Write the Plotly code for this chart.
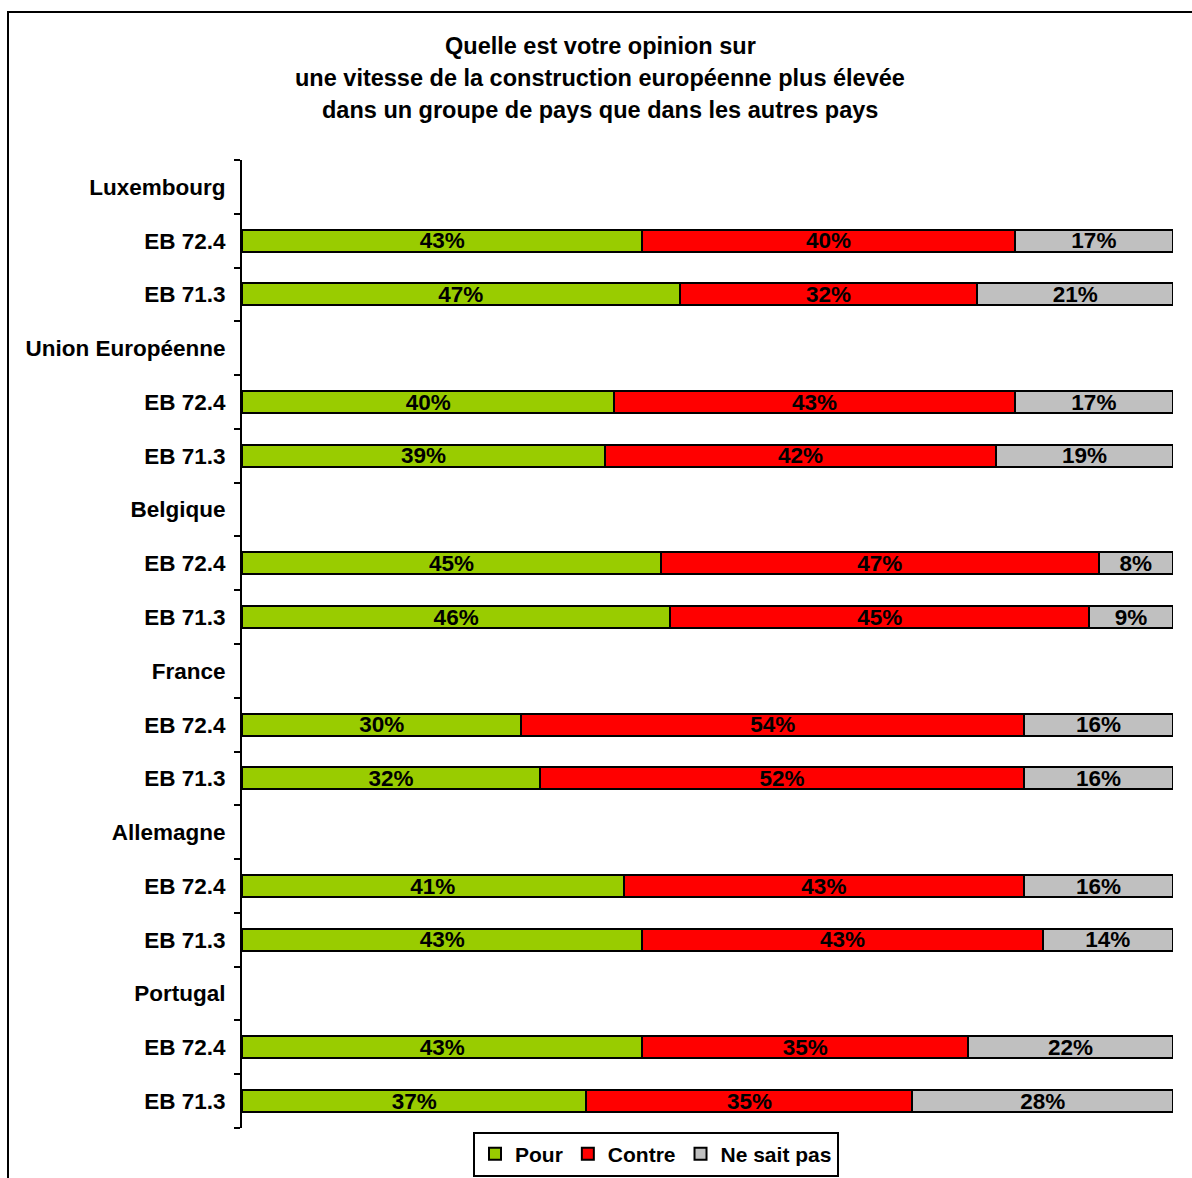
import plotly.graph_objects as go

countries = ["Luxembourg", "Union Européenne", "Belgique", "France", "Allemagne", "Portugal"]
waves = ["EB 72.4", "EB 71.3"]

pour = [[43, 47], [40, 39], [45, 46], [30, 32], [41, 43], [43, 37]]
contre = [[40, 32], [43, 42], [47, 45], [54, 52], [43, 43], [35, 35]]
nsp = [[17, 21], [17, 19], [8, 9], [16, 16], [16, 14], [22, 28]]

series_names = ["Pour", "Contre", "Ne sait pas"]
series_colors = ["#99CC00", "#FF0000", "#C0C0C0"]
title_lines = ["Quelle est votre opinion sur",
               "une vitesse de la construction européenne plus élevée",
               "dans un groupe de pays que dans les autres pays"]

FONT = "Liberation Sans, Arial, sans-serif"
FS = 22.5

# build rows: header row per country then two waves
row_ids, row_labels = [], []
vals = {0: [], 1: [], 2: []}
for ci, c in enumerate(countries):
    row_ids.append(f"r{len(row_ids)}")
    row_labels.append(c)
    for k in range(3):
        vals[k].append(None)
    for wi, w in enumerate(waves):
        row_ids.append(f"r{len(row_ids)}")
        row_labels.append(w)
        vals[0].append(pour[ci][wi])
        vals[1].append(contre[ci][wi])
        vals[2].append(nsp[ci][wi])

fig = go.Figure()
for k in range(3):
    fig.add_trace(go.Bar(
        y=row_ids, x=vals[k], orientation="h", name=series_names[k],
        marker=dict(color=series_colors[k], line=dict(color="black", width=2)),
        text=[f"{v}%" if v is not None else "" for v in vals[k]],
        textposition="inside", insidetextanchor="middle", constraintext="none",
        textfont=dict(family=FONT, size=FS, color="black", weight="bold"),
        width=0.41, hoverinfo="skip",
    ))

W, H = 1192, 1178
L, R, T, B = 242, 19, 160, 50
ph = H - T - B
pw = W - L - R

def py(pix):
    return (H - B - pix) / ph

def px(pix):
    return (pix - L) / pw

annotations = []
for i, line in enumerate(title_lines):
    annotations.append(dict(
        text=line, xref="paper", yref="paper", x=px(600), y=py(46 + 32 * i),
        xanchor="center", yanchor="middle", showarrow=False,
        font=dict(family=FONT, size=23.5, color="black", weight="bold")))

fig.update_layout(
    template="none",
    width=W, height=H, barmode="stack",
    margin=dict(l=L, r=R, t=T, b=B, pad=0, autoexpand=False),
    paper_bgcolor="white", plot_bgcolor="white",
    showlegend=True,
    legend=dict(orientation="h", xref="container", x=656 / W, xanchor="center",
                yref="container", y=(H - 1154) / H, yanchor="middle",
                bordercolor="black", borderwidth=2, bgcolor="white",
                font=dict(family=FONT, size=21, color="black", weight="bold"),
                traceorder="normal"),
    xaxis=dict(range=[0, 100], visible=False, fixedrange=True),
    yaxis=dict(type="category", categoryorder="array", categoryarray=row_ids,
               tickmode="array", tickvals=row_ids, ticktext=row_labels,
               autorange="reversed", tickson="boundaries",
               ticks="outside", ticklen=6, tickwidth=2, tickcolor="black",
               showline=True, linecolor="black", linewidth=2, showgrid=False,
               zeroline=False, automargin=False,
               ticklabelstandoff=10,
               tickfont=dict(family=FONT, size=FS, color="black", weight="bold")),
    annotations=annotations,
    shapes=[dict(type="rect", xref="paper", yref="paper",
                 x0=px(8), y0=py(1300), x1=px(1300), y1=py(12),
                 line=dict(color="black", width=2), fillcolor="rgba(0,0,0,0)", layer="below")],
    uniformtext=dict(minsize=FS, mode="show"),
)

fig.write_html("out.html")
